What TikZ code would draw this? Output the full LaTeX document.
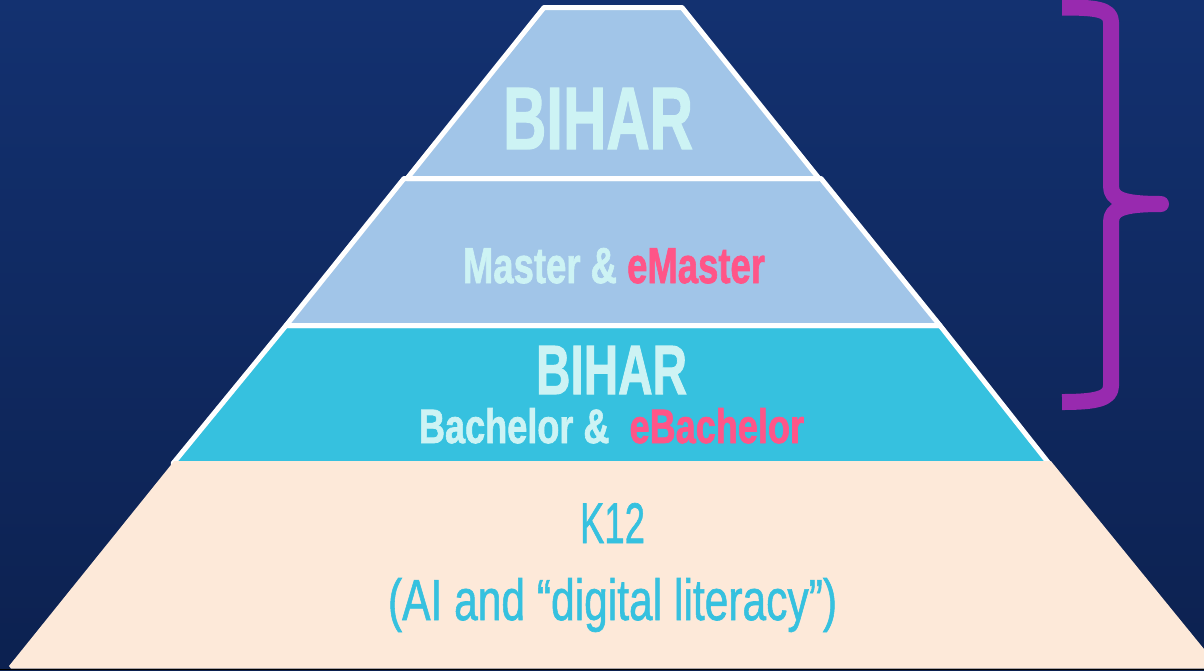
\documentclass[tikz,border=0pt]{standalone}
\usepackage{fontspec}
\usepackage{graphicx}
\setmainfont{Liberation Sans}
\newfontfamily\heavyface[FakeBold=1.6]{Liberation Sans Bold}
\newfontfamily\mediumface[FakeBold=1.2]{Liberation Sans}
\definecolor{bgtop}{RGB}{19,49,112}
\definecolor{bgbot}{RGB}{12,33,80}
\definecolor{tierblue}{RGB}{161,197,232}
\definecolor{tiercyan}{RGB}{54,193,223}
\definecolor{tierpeach}{RGB}{253,233,217}
\definecolor{paletext}{RGB}{205,243,244}
\definecolor{pinktext}{RGB}{255,85,136}
\definecolor{bracepurple}{RGB}{152,42,175}
\definecolor{baseline}{RGB}{45,48,68}
\tikzset{
  tier/.style={draw=white,line width=5pt,line join=round},
  label/.style={inner sep=0pt,outer sep=0pt,anchor=base west},
}
\newcommand{\fitbox}[3]{\resizebox{#1pt}{#2pt}{#3}}
\begin{document}
\begin{tikzpicture}[x=1pt,y=-1pt]
\useasboundingbox (0,0) rectangle (1204,670);
\shade[top color=bgtop,bottom color=bgbot] (0,0) rectangle (1204,670);
% tiers
\fill[baseline] (0,668.6) rectangle (1204,670);
\draw[tier,fill=tiercyan] (286,325.5) -- (940,325.5) -- (1049,463.5) -- (173,463.5) -- cycle;
\fill[tierpeach] (174,461.2) -- (1051,461.2) -- (1204,649) -- (1204,668.6) -- (11,668.6) -- (9,666) -- cycle;
\draw[tier,fill=tierblue] (404,178.5) -- (821,178.5) -- (940,325.5) -- (286,325.5) -- cycle;
\draw[tier,fill=tierblue] (544,7.5) -- (682,7.5) -- (819,178.5) -- (407,178.5) -- cycle;
% brace
\draw[bracepurple,line width=16pt,line join=round]
  (1062,7.5) .. controls (1095,7.5) and (1111,9) .. (1111,22)
  -- (1111,186) .. controls (1111,199) and (1122,204) .. (1161,204)
  .. controls (1122,204) and (1111,209) .. (1111,222)
  -- (1111,386) .. controls (1111,399) and (1095,402) .. (1062,402);
% text
\node[label,text=paletext] (top) at (503,149) {\fitbox{190}{61}{\heavyface BIHAR}};
\node[label,text=paletext] (master) at (463,283) {\fitbox{302}{35}{\heavyface Master \& \textcolor{pinktext}{eMaster}}};
\node[label,text=paletext] (mid) at (536,394) {\fitbox{151}{48}{\heavyface BIHAR}};
\node[label,text=paletext] (bach) at (419,443) {\fitbox{385}{35}{\heavyface Bachelor \&\ \ \textcolor{pinktext}{eBachelor}}};
\node[label,text=tiercyan] (k12) at (580,543) {\fitbox{65}{40}{\mediumface K12}};
\node[label,text=tiercyan] (ai) at (388,620) {\fitbox{449}{42}{\mediumface (AI and “digital literacy”)}};
\end{tikzpicture}
\end{document}
